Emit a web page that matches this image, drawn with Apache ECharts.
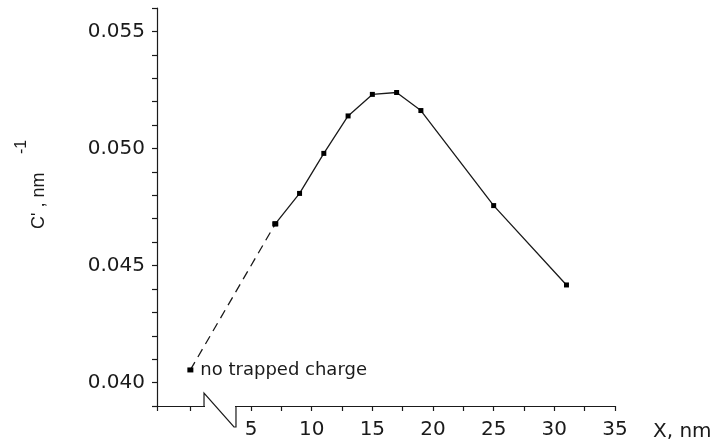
<!DOCTYPE html>
<html>
<head>
<meta charset="utf-8">
<script src="https://cdn.jsdelivr.net/npm/echarts@6/dist/echarts.min.js"></script>
<style>
  html, body { margin: 0; padding: 0; background: #fff; }
  #chart { width: 712px; height: 444px; }
</style>
</head>
<body>
<div id="chart"></div>
<script>
// Layer thickness X, nm
const thicknessNm = [0, 7, 9, 11, 13, 15, 17, 19, 25, 31];
// Measured C', nm^-1
const capacitance = [0.04054, 0.04678, 0.04808, 0.04979, 0.05139, 0.05231, 0.05239, 0.05162, 0.04756, 0.04417];
// The first segment (from the uncharged reference point) is drawn dashed
const dashedEnd = 1;
// Tick positions and labelled values on the X axis
const xTickValues = [-2.75, 0, 5, 7.5, 10, 12.5, 15, 17.5, 20, 22.5, 25, 27.5, 30, 32.5, 35];
const xLabelValues = [5, 10, 15, 20, 25, 30, 35];
// Y axis labelled values
const yLabelValues = [0.040, 0.045, 0.050, 0.055];
// Gap in the X axis (drawn as a break)
const axisBreak = [1.125, 3.76];
const referenceNote = 'no trapped charge';

const ink = '#1a1a1a';
const tickFont = { fontFamily: 'DejaVu Sans', fontSize: 20, color: ink };

const pairs = thicknessNm.map((x, i) => [x, capacitance[i]]);
const dashedData = pairs.slice(0, dashedEnd + 1).map((p, i) => i === 0
  ? { value: p, label: { show: true, formatter: referenceNote, position: 'right', distance: 7,
      fontFamily: 'DejaVu Sans', fontSize: 18, color: ink } }
  : p);
const solidData = pairs.slice(dashedEnd);

const chart = echarts.init(document.getElementById('chart'), null, { renderer: 'canvas' });

chart.setOption({
  backgroundColor: '#fff',
  animation: false,
  grid: { left: 157, top: 8, width: 458, height: 398, containLabel: false },
  xAxis: {
    type: 'value',
    min: -2.75,
    max: 35,
    splitLine: { show: false },
    axisLine: { show: true, onZero: false, lineStyle: { color: ink, width: 1.2 } },
    axisTick: { show: true, inside: false, length: 5, customValues: xTickValues,
      lineStyle: { color: ink, width: 1.2 } },
    axisLabel: { show: true, customValues: xLabelValues, margin: 14, ...tickFont }
  },
  yAxis: {
    type: 'value',
    min: 0.039,
    max: 0.056,
    interval: 0.001,
    splitLine: { show: false },
    axisLine: { show: true, onZero: false, lineStyle: { color: ink, width: 1.2 } },
    axisTick: { show: true, inside: false, length: 5, lineStyle: { color: ink, width: 1.2 } },
    axisLabel: {
      margin: 12,
      ...tickFont,
      formatter: v => yLabelValues.some(t => Math.abs(t - v) < 1e-7) ? v.toFixed(3) : ''
    }
  },
  series: [
    {
      type: 'line',
      data: dashedData,
      symbol: 'rect',
      symbolSize: [6, 5],
      itemStyle: { color: '#000' },
      lineStyle: { color: ink, width: 1.3, type: [9, 6] },
      z: 3
    },
    {
      type: 'line',
      data: solidData,
      symbol: 'rect',
      symbolSize: 5,
      itemStyle: { color: '#000' },
      lineStyle: { color: ink, width: 1.3 },
      z: 3
    }
  ]
});

// Axis break, axis title and Y axis title placed from the axis scales
const axisY = chart.convertToPixel({ yAxisIndex: 0 }, 0.039);
const bx1 = chart.convertToPixel({ xAxisIndex: 0 }, axisBreak[0]);
const bx2 = chart.convertToPixel({ xAxisIndex: 0 }, axisBreak[1]);
const xEnd = chart.convertToPixel({ xAxisIndex: 0 }, 35);

chart.setOption({
  graphic: [
    {
      type: 'rect', z: 50,
      shape: { x: bx1 + 1, y: axisY - 3, width: bx2 - bx1 - 2, height: 10 },
      style: { fill: '#fff' }
    },
    {
      type: 'polyline', z: 51,
      shape: { points: [[bx1, axisY], [bx1, axisY - 13], [bx2 - 2, axisY + 21], [bx2, axisY + 21], [bx2, axisY]] },
      style: { stroke: ink, lineWidth: 1.2, fill: null }
    },
    {
      type: 'text', z: 51,
      x: xEnd + 38, y: axisY + 26,
      style: { text: 'X, nm', fontFamily: 'DejaVu Sans', fontSize: 20, fill: ink,
        textAlign: 'left', textVerticalAlign: 'middle' }
    },
    {
      type: 'text', z: 51,
      x: 39, y: 229, rotation: Math.PI / 2,
      style: { text: "C' , nm", fontFamily: 'Liberation Sans', fontSize: 18, fill: ink,
        textAlign: 'left', textVerticalAlign: 'middle' }
    },
    {
      type: 'text', z: 51,
      x: 22, y: 154, rotation: Math.PI / 2,
      style: { text: '-1', fontFamily: 'Liberation Sans', fontSize: 16, fill: ink,
        textAlign: 'left', textVerticalAlign: 'middle' }
    }
  ]
});
</script>
</body>
</html>
